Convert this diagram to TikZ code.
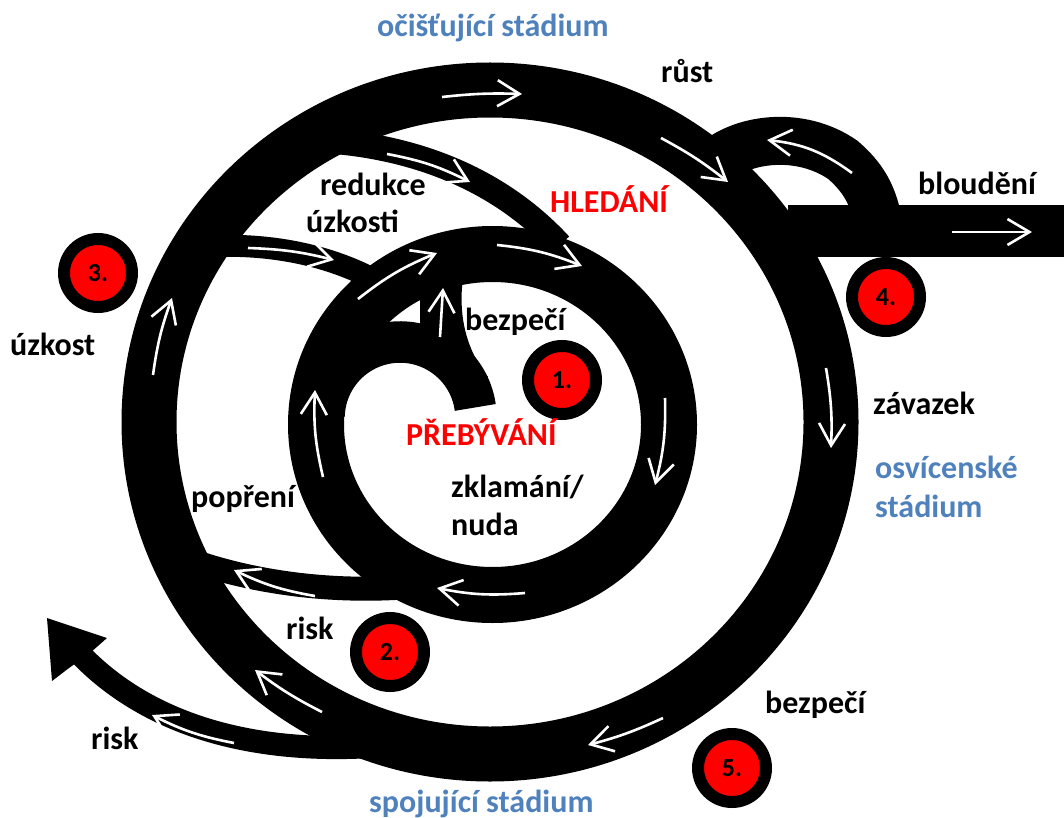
\documentclass[tikz,border=0pt]{standalone}
\usepackage{fontspec}
\setmainfont{Carlito}
\usetikzlibrary{arrows.meta}
\definecolor{stblue}{HTML}{4F81BD}
\definecolor{hred}{HTML}{FF0000}
\begin{document}
\begin{tikzpicture}[x=1pt,y=-1pt,
  warrow/.style={draw=white, line width=2.6pt, -{Straight Barb[length=22pt,width=26pt]}},
  lbl/.style={font=\bfseries\fontsize{32}{36}\selectfont, inner sep=0pt, anchor=base west},
  numc/.style={circle, fill=hred, draw=black, line width=12pt, minimum size=68pt, inner sep=0pt, font=\bfseries\fontsize{26}{30}\selectfont}
]
\useasboundingbox[fill=white] (0,0) rectangle (1064,818);
% rings
\draw[line width=55pt] (490,422) ellipse [x radius=341, y radius=332];
\draw[line width=56pt] (492.5,424.5) ellipse [x radius=176.5, y radius=170.5];
% central hook
\draw[line width=41.5pt] (400,418) ++(-8:76) arc[start angle=-8, end angle=-178, radius=76];
\fill (420,340) -- (420,272) -- (464,272) .. controls (458,305) and (462,345) .. (488,377) -- (445,372) -- cycle;
% connecting bands
\draw[line width=22pt] (215,246) .. controls (275,244) and (330,256) .. (375,280);
\draw[line width=25pt] (340,142) .. controls (420,150) and (500,180) .. (560,245);
\draw[line width=24pt] (190,560) .. controls (240,578) and (330,598) .. (440,584);
\draw[line width=23pt] (78,652) .. controls (140,718) and (240,756) .. (380,746);
\fill (47,618) -- (107,638) -- (90,653) -- (69,668) -- (52,681) -- cycle;
% loop and exit bar
\draw[line width=48pt] (712,165) .. controls (740,138) and (800,130) .. (843,160) .. controls (866,180) and (876,200) .. (880,235);
\draw[line width=52pt] (788,231) -- (1070,231);
% white flow arrows
\draw[warrow] (442,97) to[bend left=4] (522,94);
\draw[warrow] (661,138) to[bend left=5] (728,182);
\draw[warrow] (826,368) to[bend left=6] (831,448);
\draw[warrow] (663,718) to[bend left=5] (588,745);
\draw[warrow] (322,712) to[bend left=5] (255,670);
\draw[warrow] (153,375) to[bend left=6] (172,298);
\draw[warrow] (234,743) to[bend left=8] (152,715);
\draw[warrow] (315,596) to[bend left=8] (234,570);
\draw[warrow] (248,248) to[bend left=6] (334,260);
\draw[warrow] (387,154) to[bend left=8] (470,182);
\draw[warrow] (852,173) to[bend right=15] (767,140);
\draw[warrow] (952,232) -- (1032,232);
\draw[warrow] (497,245) to[bend left=8] (582,266);
\draw[warrow] (358,299) to[bend left=8] (437,253);
\draw[warrow] (323,477) to[bend left=8] (315,390);
\draw[warrow] (665,398) to[bend left=8] (655,485);
\draw[warrow] (525,593) to[bend left=8] (437,588);
\draw[warrow] (440,337) -- (443,288);
% numbered circles
\node[numc] (c1) at (562,380) {1.};
\node[numc] (c2) at (390,652) {2.};
\node[numc] (c3) at (98,273) {3.};
\node[numc] (c4) at (886,297) {4.};
\node[numc] (c5) at (732,768) {5.};
% labels
\node[lbl, text=stblue] (s1) at (377,37) {očišťující stádium};
\node[lbl, text=stblue] (s2a) at (875,478) {osvícenské};
\node[lbl, text=stblue] (s2b) at (875,517) {stádium};
\node[lbl, text=stblue] (s3) at (369,812) {spojující stádium};
\node[lbl, text=hred] (h1) at (550,212) {HLEDÁNÍ};
\node[lbl, text=hred] (h2) at (406,445) {PŘEBÝVÁNÍ};
\node[lbl] (l1) at (661,83) {růst};
\node[lbl] (l2) at (918,195) {bloudění};
\node[lbl] (l3) at (320,196) {redukce};
\node[lbl] (l4) at (306,233) {úzkosti};
\node[lbl] (l5) at (10,355) {úzkost};
\node[lbl] (l6) at (465,330) {bezpečí};
\node[lbl] (l7) at (873,414) {závazek};
\node[lbl] (l8) at (451,497) {zklamání/};
\node[lbl] (l9) at (451,535) {nuda};
\node[lbl] (l10) at (191,507) {popření};
\node[lbl] (l11) at (286,639) {risk};
\node[lbl] (l12) at (91,749) {risk};
\node[lbl] (l13) at (765,713) {bezpečí};
\end{tikzpicture}
\end{document}
